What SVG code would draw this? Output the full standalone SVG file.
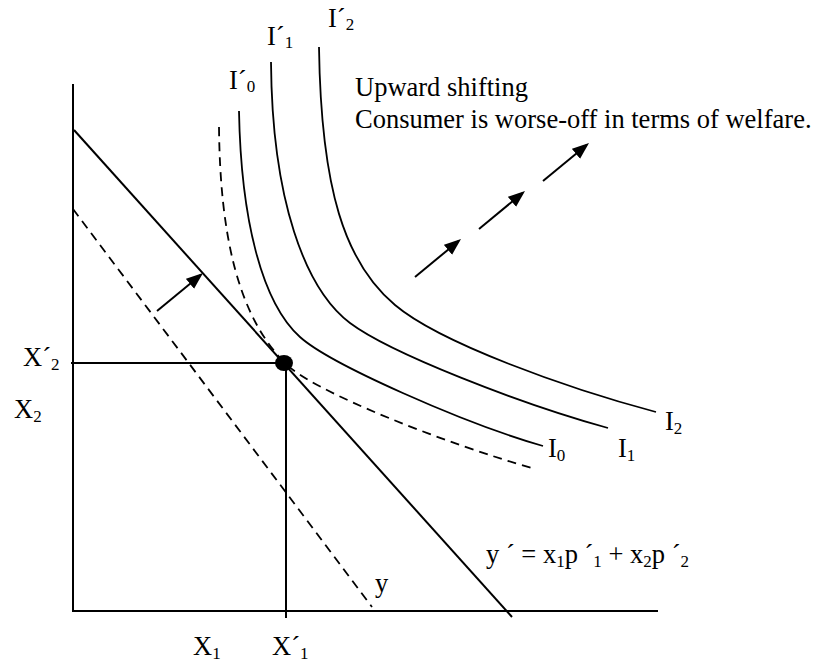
<svg xmlns="http://www.w3.org/2000/svg" width="818" height="665" viewBox="0 0 818 665">
<style>
  .ln{fill:none;stroke:#000;stroke-width:2}
  .cv{fill:none;stroke:#000;stroke-width:1.8}
  .ds{fill:none;stroke:#000;stroke-width:1.8;stroke-dasharray:9 6}
  text{font-family:"Liberation Serif","Times New Roman",serif;font-size:26.5px;fill:#000}
  .sb{font-size:17px}
</style>
<defs>
  <marker id="ah" markerWidth="18" markerHeight="14" refX="14" refY="6.5" orient="auto" markerUnits="userSpaceOnUse">
    <path d="M0,0 L17,6.5 L0,13 z" fill="#000"/>
  </marker>
</defs>
<rect width="818" height="665" fill="#fff"/>

<g id="axes">
  <line class="ln" x1="73" y1="84" x2="73" y2="612"/>
  <line class="ln" x1="72" y1="611" x2="658" y2="611"/>
</g>

<g id="budget-line-y">
  <line class="ds" x1="73" y1="209" x2="372" y2="607"/>
  <text x="375" y="592">y</text>
</g>

<g id="budget-line-y-prime">
  <line class="ln" x1="74" y1="130" x2="512" y2="617"/>
  <text x="486" y="563">y ´ = x<tspan class="sb" dy="4">1</tspan><tspan dy="-4">p ´</tspan><tspan class="sb" dy="4">1</tspan><tspan dy="-4"> + x</tspan><tspan class="sb" dy="4">2</tspan><tspan dy="-4">p ´</tspan><tspan class="sb" dy="4">2</tspan></text>
</g>

<g id="curve-I0-prime">
  <path class="ds" d="M219,127 C220,235 238,315 284,362 C310,391 450,445 532,468"/>
  <text x="229" y="89">I´<tspan class="sb" dy="3">0</tspan></text>
</g>

<g id="curve-I0">
  <path class="cv" d="M239,111 C241,220 262,303 300,337 C330,364 463,423 543,446"/>
  <text x="548" y="457">I<tspan class="sb" dy="4">0</tspan></text>
</g>

<g id="curve-I1">
  <path class="cv" d="M271,62 C272,200 305,289 350,323 C390,353 518,403 608,428"/>
  <text x="267" y="45">I´<tspan class="sb" dy="3">1</tspan></text>
  <text x="618" y="457">I<tspan class="sb" dy="4">1</tspan></text>
</g>

<g id="curve-I2">
  <path class="cv" d="M319,47 C321,190 345,263 395,305 C440,343 566,388 656,412"/>
  <text x="328" y="27">I´<tspan class="sb" dy="3">2</tspan></text>
  <text x="665" y="430">I<tspan class="sb" dy="4">2</tspan></text>
</g>

<g id="equilibrium">
  <line class="ln" x1="71" y1="363" x2="284" y2="363"/>
  <line class="ln" x1="286" y1="363" x2="286" y2="618"/>
  <ellipse cx="284" cy="363" rx="9" ry="8" fill="#000"/>
  <text x="23" y="366">X´<tspan class="sb" dy="4">2</tspan></text>
  <text x="14" y="418">X<tspan class="sb" dy="4">2</tspan></text>
  <text x="193" y="655">X<tspan class="sb" dy="4">1</tspan></text>
  <text x="272" y="655">X´<tspan class="sb" dy="4">1</tspan></text>
</g>

<g id="note">
  <text x="355" y="96">Upward shifting</text>
  <text x="355" y="128">Consumer is worse-off in terms of welfare.</text>
</g>

<g id="connectors">
  <line class="ln" x1="157" y1="311" x2="200.7" y2="274.9" marker-end="url(#ah)"/>
  <line class="ln" x1="415" y1="277" x2="458.7" y2="240.9" marker-end="url(#ah)"/>
  <line class="ln" x1="479" y1="229" x2="522.7" y2="192.9" marker-end="url(#ah)"/>
  <line class="ln" x1="543" y1="181" x2="586.7" y2="144.9" marker-end="url(#ah)"/>
</g>
</svg>
